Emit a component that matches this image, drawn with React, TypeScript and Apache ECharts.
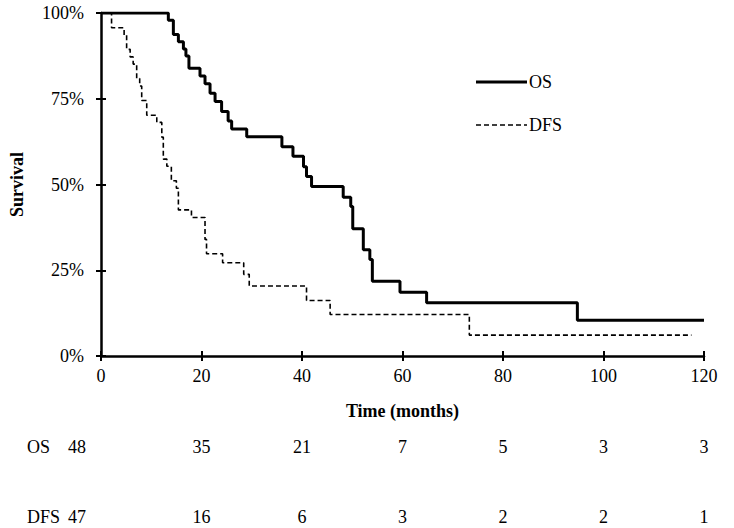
import React, { useEffect, useRef } from "react";
import * as echarts from "echarts";

// Kaplan-Meier step points: [months, survival %]
const osCurve: [number, number][] = [
  [0, 100], [13.4, 97.9], [14.4, 93.7], [15.4, 91.6], [16.4, 89.5], [16.9, 87.5],
  [17.5, 83.9], [19.7, 81.6], [20.7, 79.4], [21.7, 76.6], [22.7, 74.2], [24.0, 71.3],
  [25.3, 68.5], [26.0, 66.2], [29.0, 63.9], [36.0, 61.0], [38.2, 58.2], [40.3, 55.2],
  [40.9, 52.3], [41.9, 49.4], [48.2, 46.3], [49.7, 43.6], [50.1, 37.1], [52.2, 31.0],
  [53.5, 28.1], [54.0, 21.8], [59.5, 18.6], [64.8, 15.5], [94.8, 10.4], [120, 10.4],
];
const dfsCurve: [number, number][] = [
  [0, 100], [2.1, 95.7], [4.6, 93.6], [5.1, 89.4], [5.8, 87.2], [6.4, 85.1], [7.1, 80.9],
  [7.7, 78.7], [8.1, 74.5], [9.1, 70.2], [11.1, 68.1], [12.1, 63.8], [12.4, 57.4],
  [13.1, 55.3], [14.0, 51.1], [15.0, 48.9], [15.4, 42.6], [18.0, 40.4], [20.7, 34.0],
  [21.0, 29.8], [24.2, 27.2], [28.4, 23.8], [29.5, 20.4], [40.9, 16.2], [45.6, 12.1],
  [73.3, 6.1], [117.5, 6.1],
];
const seriesNames = ["OS", "DFS"];
const riskTimes = [0, 20, 40, 60, 80, 100, 120];
const osAtRisk = [48, 35, 21, 7, 5, 3, 3];
const dfsAtRisk = [47, 16, 6, 3, 2, 2, 1];

const FONT = "'Liberation Serif', 'Times New Roman', serif";
const FS = 18;

export default function App() {
  const ref = useRef<HTMLDivElement>(null);
  useEffect(() => {
    document.body.style.margin = "0";
    if (!ref.current) return;
    const chart = echarts.init(ref.current, null, { renderer: "svg" });
    const axisLine = { show: true, lineStyle: { color: "#000", width: 2.5 } };
    const option: any = {
      animation: false,
      backgroundColor: "#fff",
      textStyle: { fontFamily: FONT, color: "#000" },
      grid: { left: 101, right: 30, top: 13, bottom: 172, containLabel: false },
      xAxis: [
        {
          type: "value", min: 0, max: 120, interval: 20,
          axisLine,
          axisTick: { show: true, length: 5, lineStyle: { color: "#000", width: 2 } },
          axisLabel: { fontFamily: FONT, fontSize: FS, color: "#000", margin: 11 },
          splitLine: { show: false },
          name: "Time (months)", nameLocation: "middle", nameGap: 46,
          nameTextStyle: { fontFamily: FONT, fontSize: FS, fontWeight: "bold", color: "#000" },
        },
        {
          type: "value", min: 0, max: 120, interval: 20, position: "bottom",
          axisLine: { show: false },
          axisTick: { show: true, inside: true, length: 5, lineStyle: { color: "#000", width: 2 } },
          axisLabel: { show: false }, splitLine: { show: false },
        },
      ],
      yAxis: [
        {
          type: "value", min: 0, max: 100, interval: 25,
          axisLine,
          axisTick: { show: true, length: 5, lineStyle: { color: "#000", width: 2 } },
          axisLabel: { fontFamily: FONT, fontSize: FS, color: "#000", margin: 17, formatter: "{value}%" },
          splitLine: { show: false },
          name: "Survival", nameLocation: "middle", nameGap: 75, nameRotate: 90,
          nameTextStyle: { fontFamily: FONT, fontSize: FS, fontWeight: "bold", color: "#000" },
        },
        {
          type: "value", min: 0, max: 100, interval: 25, position: "left",
          axisLine: { show: false },
          axisTick: { show: true, inside: true, length: 5, lineStyle: { color: "#000", width: 2 } },
          axisLabel: { show: false }, splitLine: { show: false },
        },
      ],
      series: [
        {
          name: seriesNames[0], type: "line", step: "end", data: osCurve,
          symbol: "none", lineStyle: { color: "#000", width: 3 },
          itemStyle: { color: "#000" },
        },
        {
          name: seriesNames[1], type: "line", step: "end", data: dfsCurve,
          symbol: "none", lineStyle: { color: "#000", width: 1.6, type: [5, 3] },
          itemStyle: { color: "#000" },
        },
      ],
    };
    chart.setOption(option);

    const g: any[] = [];
    // legend
    const legendY = [82, 125];
    seriesNames.forEach((n, i) => {
      g.push({
        type: "line",
        shape: { x1: 476, y1: legendY[i], x2: 527, y2: legendY[i] },
        style: i === 0
          ? { stroke: "#000", lineWidth: 3 }
          : { stroke: "#000", lineWidth: 1.6, lineDash: [5, 3] },
      });
      g.push({
        type: "text", x: 529, y: legendY[i],
        style: { text: n, font: `${FS}px ${FONT}`, fill: "#000", verticalAlign: "middle" },
      });
    });
    // at-risk table
    const rows = [
      { name: seriesNames[0], vals: osAtRisk, y: 447 },
      { name: seriesNames[1], vals: dfsAtRisk, y: 517 },
    ];
    rows.forEach((r) => {
      g.push({
        type: "text", x: 27, y: r.y,
        style: { text: r.name, font: `${FS}px ${FONT}`, fill: "#000", verticalAlign: "middle" },
      });
      r.vals.forEach((v, i) => {
        const px = i === 0 ? 77 : (chart.convertToPixel({ xAxisIndex: 0 }, riskTimes[i]) as number);
        g.push({
          type: "text", x: px, y: r.y,
          style: { text: String(v), font: `${FS}px ${FONT}`, fill: "#000", align: "center", verticalAlign: "middle" },
        });
      });
    });
    chart.setOption({ graphic: g });

    return () => chart.dispose();
  }, []);
  return <div ref={ref} style={{ width: 734, height: 528 }} />;
}
